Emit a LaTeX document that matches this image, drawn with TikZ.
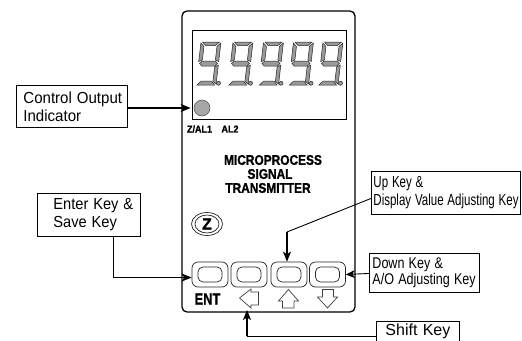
\documentclass[tikz,border=0pt]{standalone}
\usepackage{fontspec}
\usepackage{graphicx}
\setmainfont{Liberation Sans}[BoldFeatures={FakeBold=1.3}]
\usetikzlibrary{arrows.meta,calc,shapes.geometric}
\newcommand{\nw}[2]{\scalebox{#1}[1]{#2}}
\tikzset{
  x=1pt,y=-1pt,
  labelbox/.style={draw=black,line width=0.9pt,rectangle,inner sep=0pt,align=left,font=\fontsize{16}{18}\selectfont,anchor=north west},
  keyouter/.style={draw=black!85,line width=0.7pt,rounded corners=6pt,minimum width=36pt,minimum height=25pt,inner sep=0pt},
  keyinner/.style={draw=black!85,line width=0.7pt,rounded corners=5pt,minimum width=24pt,minimum height=15pt,inner sep=0pt},
  icon/.style={draw=black!75,line width=0.7pt,fill=white},
  seg/.style={draw=black!85,line width=0.5pt,fill=black!40},
  bold label/.style={inner sep=0pt,font=\bfseries},
  arr/.style={-{Stealth[length=10pt,width=8pt,inset=2.5pt]},line width=1.5pt,black},
  thinlead/.style={line width=0.9pt,black},
}
\newcommand{\sevenseg}[1]{%
  \begin{scope}[shift={(#1,85)},xslant=0.116]
    \filldraw[seg] (1.5,-43)--(18.5,-43)--(15,-39.5)--(5,-39.5)--cycle;
    \filldraw[seg] (0,-23.5)--(0,-42)--(3.5,-38.5)--(3.5,-25)--cycle;
    \filldraw[seg] (20,-42)--(20,-23.5)--(16.5,-25)--(16.5,-38.5)--cycle;
    \filldraw[seg] (1,-21.5)--(3.5,-24)--(16.5,-24)--(19,-21.5)--(16.5,-19)--(3.5,-19)--cycle;
    \filldraw[seg] (20,-20)--(20,-1)--(16.5,-3.5)--(16.5,-18)--cycle;
    \filldraw[seg] (1,0)--(18.5,0)--(15,-3.8)--(4.5,-3.8)--cycle;
    \filldraw[seg] (22.3,-1.7) circle[radius=2];
  \end{scope}}
\begin{document}
\begin{tikzpicture}
\clip (0,0) rectangle (522,340);
\fill[white] (0,0) rectangle (522,340);
% panel
\draw[line width=1.3pt,rounded corners=5pt] (182,11) rectangle (355,312);
\draw[line width=0.9pt] (192,30) rectangle (346,119);
\sevenseg{196}\sevenseg{228}\sevenseg{258.5}\sevenseg{288.5}\sevenseg{318}
\node[circle,draw=black!70,line width=0.5pt,fill=black!35,minimum size=16pt,inner sep=0pt] (led) at (202,108) {};
\node[bold label,font=\fontsize{10}{11}\bfseries] (zal) at (199.5,129) {\nw{0.9}{Z/AL1}};
\node[bold label,font=\fontsize{10}{11}\bfseries] (altwo) at (230,129) {\nw{0.9}{AL2}};
\node[bold label,font=\fontsize{14}{14}\bfseries] (t1) at (273,160) {\nw{0.85}{MICROPROCESS}};
\node[bold label,font=\fontsize{14}{14}\bfseries] (t2) at (270,174) {\nw{0.85}{SIGNAL}};
\node[bold label,font=\fontsize{14}{14}\bfseries] (t3) at (268,188) {\nw{0.85}{TRANSMITTER}};
% Z button
\node[ellipse,draw=black!85,line width=0.7pt,minimum width=31pt,minimum height=23pt,inner sep=0pt] (zo) at (207,224) {};
\node[ellipse,draw=black!85,line width=0.7pt,minimum width=24pt,minimum height=18pt,inner sep=0pt,font=\fontsize{16}{16}\bfseries] (zi) at (207,224) {Z};
% keys
\node[keyouter] (key1) at (210,274.5) {};
\node[keyouter] (key2) at (249,274.5) {};
\node[keyouter] (key3) at (289,274.5) {};
\node[keyouter] (key4) at (327.5,274.5) {};
\node[keyinner] (in1) at (key1) {};
\node[keyinner] (in2) at (key2) {};
\node[keyinner] (in3) at (key3) {};
\node[keyinner] (in4) at (key4) {};
\node[bold label,font=\fontsize{16}{16}\bfseries] (ent) at (207.5,299) {\nw{0.8}{ENT}};
% key icons
\draw[icon] (239.5,298)--(251,289)--(251,292)--(258.5,292)--(258.5,305)--(251,305)--(251,308)--cycle;
\draw[icon] (288.5,289.5)--(298.5,301)--(294,301)--(294,308)--(282.5,308)--(282.5,301)--(278.5,301)--cycle;
\draw[icon] (327.5,308)--(337.5,297)--(333.5,297)--(333.5,289.5)--(322.5,289.5)--(322.5,297)--(317.5,297)--cycle;
% label boxes
\node[labelbox,text width=111pt,minimum height=42pt] (ctrl) at (16,85) {\hspace*{7pt}\nw{0.94}{Control Output}\\\hspace*{7pt}\nw{0.94}{Indicator}};
\node[labelbox,text width=103pt,minimum height=43pt] (enter) at (37,193) {\hspace*{16pt}\nw{0.915}{Enter Key \&}\\\hspace*{16pt}\nw{0.915}{Save Key}};
\node[labelbox,text width=149pt,minimum height=43pt] (up) at (371,171) {\hspace*{2pt}\nw{0.72}{Up Key \&}\\\hspace*{2pt}\nw{0.72}{Display Value Adjusting Key}};
\node[labelbox,text width=110pt,minimum height=39pt,font=\fontsize{15.5}{16.5}\selectfont] (down) at (369,253) {\hspace*{3pt}\nw{0.81}{Down Key \&}\\\hspace*{3pt}\nw{0.81}{A/O Adjusting Key}};
\node[labelbox,text width=83pt,minimum height=19.5pt,font=\fontsize{16}{16}\selectfont] (shift) at (376,321) {\hspace*{9pt}{Shift Key}};
% connectors
\draw[arr] (ctrl.east |- led) -- ([xshift=-3pt]led.west);
\draw[arr] ([xshift=24.5pt]enter.south) |- ([yshift=-3pt]key1.west);
\coordinate (upbend) at (287,232);
\draw[thinlead] ([yshift=-5.5pt]up.west) -- (upbend);
\draw[arr] (upbend) -- (key3.north -| upbend);
\draw[thinlead,-{Stealth[length=9pt,width=8pt,inset=2.5pt]}] ([yshift=-0.5pt]down.west) -- (key4.east);
\coordinate (shiftbend) at (247,336);
\draw[thinlead] (shift.west |- shiftbend) -- (shiftbend);
\coordinate (shifttip) at (247,310);
\draw[arr] (shiftbend) -- (shifttip);
\end{tikzpicture}
\end{document}
